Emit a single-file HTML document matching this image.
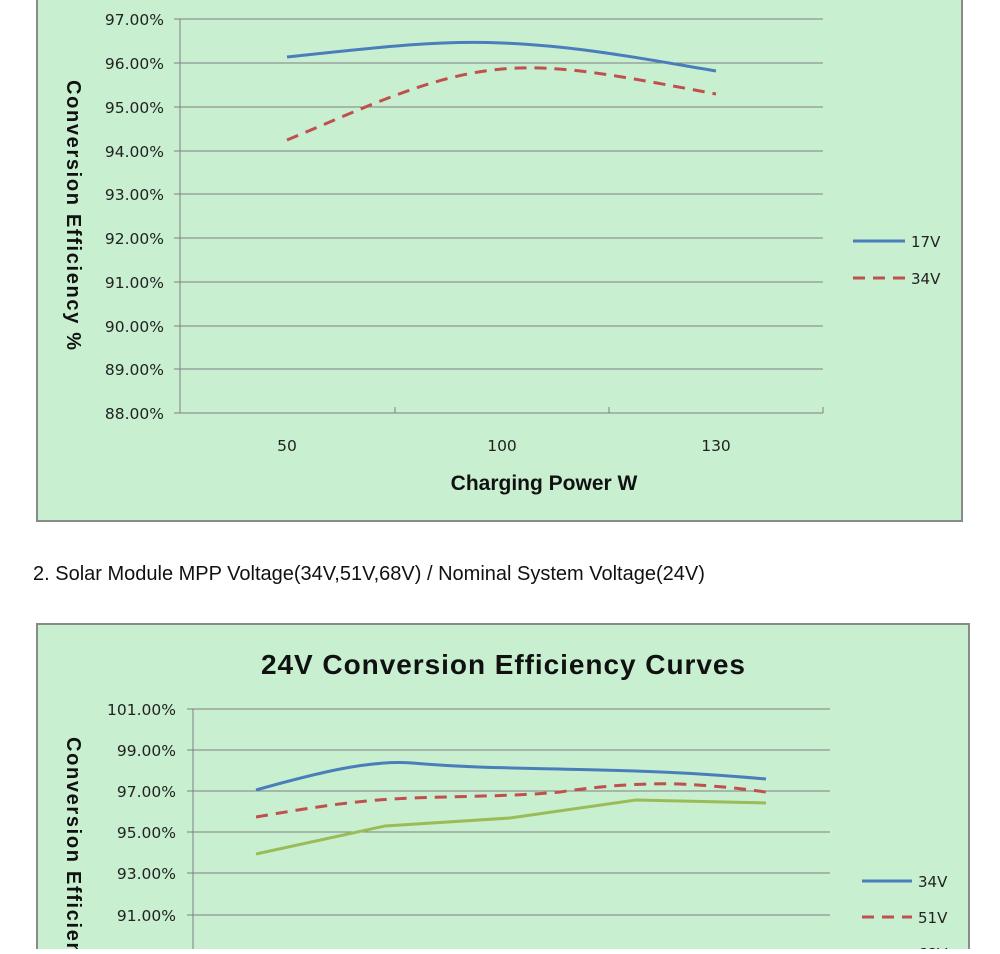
<!DOCTYPE html>
<html><head><style>
body{margin:0;width:1000px;height:949px;overflow:hidden;background:#fff;font-family:"Liberation Sans",sans-serif;}
svg text{font-family:"DejaVu Sans","Liberation Sans",sans-serif;}
</style></head><body>
<svg width="1000" height="949" viewBox="0 0 1000 949" xmlns="http://www.w3.org/2000/svg">
<rect x="37" y="-5" width="925" height="526" fill="#c8efd0" stroke="#8a8a8a" stroke-width="2"/>
<g stroke="#7f7f7f" stroke-width="1">
<line x1="174" y1="19" x2="823" y2="19"/><line x1="174" y1="63" x2="823" y2="63"/><line x1="174" y1="107" x2="823" y2="107"/>
<line x1="174" y1="151" x2="823" y2="151"/><line x1="174" y1="194" x2="823" y2="194"/><line x1="174" y1="238" x2="823" y2="238"/>
<line x1="174" y1="282" x2="823" y2="282"/><line x1="174" y1="326" x2="823" y2="326"/><line x1="174" y1="369" x2="823" y2="369"/>
<line x1="174" y1="413" x2="823" y2="413"/>
<line x1="180" y1="19" x2="180" y2="413"/>
<line x1="395" y1="407" x2="395" y2="413"/><line x1="609" y1="407" x2="609" y2="413"/><line x1="823" y1="407" x2="823" y2="413"/>
</g>
<g font-size="15.5" fill="#222" text-anchor="end">
<text x="164" y="25">97.00%</text><text x="164" y="69">96.00%</text><text x="164" y="113">95.00%</text>
<text x="164" y="157">94.00%</text><text x="164" y="200">93.00%</text><text x="164" y="244">92.00%</text>
<text x="164" y="288">91.00%</text><text x="164" y="332">90.00%</text><text x="164" y="375">89.00%</text>
<text x="164" y="419">88.00%</text>
</g>
<g font-size="15.5" fill="#222" text-anchor="middle">
<text x="287" y="451">50</text><text x="502" y="451">100</text><text x="716" y="451">130</text>
</g>
<text x="544" y="490" font-size="21" font-weight="bold" fill="#111" text-anchor="middle" style="font-family:'Liberation Sans',sans-serif">Charging Power W</text>
<text transform="translate(67,215) rotate(90)" font-size="20" font-weight="bold" fill="#111" text-anchor="middle" style="font-family:'Liberation Sans',sans-serif" textLength="270">Conversion Efficiency %</text>
<path d="M287,57 C380,47 440,40 502,43 C580,46 650,60 716,71" fill="none" stroke="#4a7ebb" stroke-width="3"/>
<path d="M287,140 C360,110 430,75 502,69 C560,64 620,76 716,94" fill="none" stroke="#c0504d" stroke-width="3" stroke-dasharray="12,8"/>
<line x1="853" y1="241" x2="905" y2="241" stroke="#4a7ebb" stroke-width="3"/>
<text x="911" y="247" font-size="15" fill="#222">17V</text>
<line x1="853" y1="278" x2="905" y2="278" stroke="#c0504d" stroke-width="3" stroke-dasharray="12,8"/>
<text x="911" y="284" font-size="15" fill="#222">34V</text>
<text x="33" y="580" font-size="20" fill="#111" style="font-family:'Liberation Sans',sans-serif">2. Solar Module MPP Voltage(34V,51V,68V) / Nominal System Voltage(24V)</text>
<rect x="37" y="624" width="932" height="340" fill="#c8efd0" stroke="#8a8a8a" stroke-width="2"/>
<text x="503" y="674" font-size="28" font-weight="bold" fill="#111" text-anchor="middle" style="font-family:'Liberation Sans',sans-serif" textLength="484">24V Conversion Efficiency Curves</text>
<g stroke="#7f7f7f" stroke-width="1">
<line x1="187" y1="709" x2="830" y2="709"/><line x1="187" y1="750" x2="830" y2="750"/><line x1="187" y1="791" x2="830" y2="791"/>
<line x1="187" y1="832" x2="830" y2="832"/><line x1="187" y1="873" x2="830" y2="873"/><line x1="187" y1="915" x2="830" y2="915"/>
<line x1="193" y1="709" x2="193" y2="949"/>
</g>
<g font-size="15.5" fill="#222" text-anchor="end">
<text x="176" y="715">101.00%</text><text x="176" y="756">99.00%</text><text x="176" y="797">97.00%</text>
<text x="176" y="838">95.00%</text><text x="176" y="879">93.00%</text><text x="176" y="921">91.00%</text>
</g>
<text transform="translate(67,737) rotate(90)" font-size="20" font-weight="bold" fill="#111" style="font-family:'Liberation Sans',sans-serif" textLength="270">Conversion Efficiency %</text>
<path d="M256,790 C320,772 370,760 412,763 C470,768 520,768 600,770 C680,772 720,775 766,779" fill="none" stroke="#4a7ebb" stroke-width="3"/>
<path d="M256,817 C320,806 360,800 412,798 C470,796 520,796 560,792 C600,786 640,783 680,784 C720,786 745,789 766,792" fill="none" stroke="#c0504d" stroke-width="3" stroke-dasharray="12,8"/>
<path d="M256,854 L385,826 L510,818 L636,800 L766,803" fill="none" stroke="#9bbb59" stroke-width="3"/>
<line x1="862" y1="881" x2="912" y2="881" stroke="#4a7ebb" stroke-width="3"/>
<text x="918" y="887" font-size="15" fill="#222">34V</text>
<line x1="862" y1="917" x2="912" y2="917" stroke="#c0504d" stroke-width="3" stroke-dasharray="12,8"/>
<text x="918" y="923" font-size="15" fill="#222">51V</text>
<line x1="862" y1="953" x2="912" y2="953" stroke="#9bbb59" stroke-width="3"/>
<text x="918" y="959" font-size="15" fill="#222">68V</text>
</svg>
</body></html>
